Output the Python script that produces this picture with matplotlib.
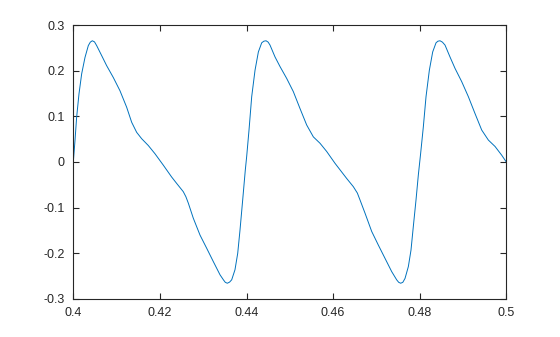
import matplotlib
matplotlib.use('Agg')
import matplotlib.pyplot as plt

plt.rcParams['font.family'] = ['Liberation Sans', 'DejaVu Sans']

# points (time in s, amplitude)
t = [0.4, 0.40039, 0.40077, 0.40131, 0.40193, 0.40270, 0.40347, 0.40393,
     0.40439, 0.40490,
     0.40539, 0.40655, 0.40770, 0.40924, 0.41078, 0.41232, 0.41348, 0.41463,
     0.41579, 0.41733, 0.41887, 0.42079, 0.42272, 0.42388, 0.42540, 0.42600,
     0.42656, 0.42771, 0.42926, 0.43081, 0.43233, 0.43388, 0.43470, 0.43510,
     0.43557, 0.43610, 0.43658, 0.43734,
     0.43797, 0.43850, 0.43912, 0.43972,
     0.44004, 0.44058, 0.44120, 0.44197, 0.44274, 0.44351, 0.44400, 0.44451,
     0.44500, 0.44543,
     0.44659, 0.44774, 0.44928, 0.45082, 0.45236, 0.45390, 0.45544, 0.45698,
     0.45852, 0.46045, 0.46313, 0.46467, 0.46560, 0.46621, 0.46737, 0.46891,
     0.47045, 0.47199, 0.47353, 0.47468, 0.47515, 0.47561, 0.47610, 0.47661,
     0.47738, 0.47799, 0.47853, 0.47915, 0.47969,
     0.48022, 0.48084, 0.48146, 0.48223, 0.48300, 0.48377, 0.48420, 0.48469,
     0.48525, 0.48585,
     0.48700, 0.48816, 0.48970, 0.49124, 0.49278, 0.49432, 0.49586, 0.49740,
     0.49893, 0.5]
y = [0.0, 0.047, 0.098, 0.149, 0.193, 0.229, 0.255, 0.2625,
     0.2655, 0.2630,
     0.255, 0.233, 0.211, 0.185, 0.156, 0.120, 0.087, 0.065,
     0.051, 0.036, 0.018, -0.007, -0.033, -0.047, -0.065, -0.076,
     -0.090, -0.123, -0.160, -0.189, -0.218, -0.247, -0.2585, -0.2635,
     -0.2655, -0.2630, -0.258, -0.236,
     -0.200, -0.149, -0.083, -0.018,
     0.012, 0.070, 0.143, 0.201, 0.241, 0.261, 0.2645, 0.2655,
     0.2625, 0.256,
     0.230, 0.209, 0.183, 0.154, 0.117, 0.081, 0.055, 0.041,
     0.023, -0.003, -0.036, -0.054, -0.068, -0.083, -0.112, -0.152,
     -0.182, -0.211, -0.240, -0.258, -0.2635, -0.2655, -0.2635, -0.255,
     -0.229, -0.193, -0.141, -0.083, -0.028,
     0.019, 0.077, 0.143, 0.201, 0.241, 0.261, 0.2645, 0.2655,
     0.2625, 0.256,
     0.230, 0.205, 0.176, 0.143, 0.106, 0.070, 0.048, 0.034,
     0.015, 0.0]

xticks = [0.4, 0.42, 0.44, 0.46, 0.48, 0.5]
yticks = [-0.3, -0.2, -0.1, 0, 0.1, 0.2, 0.3]

fig = plt.figure(figsize=(5.6, 3.37), dpi=100)
ax = fig.add_axes([0.1309, 0.1128, 0.7732, 0.8130])
ax.plot(t, y, color='#0072BD', linewidth=0.7, solid_joinstyle='round')

ax.set_xlim(0.4, 0.5)
ax.set_ylim(-0.3, 0.3)
ax.set_xticks(xticks)
ax.set_xticklabels(['0.4', '0.42', '0.44', '0.46', '0.48', '0.5'])
ax.set_yticks(yticks)
ax.set_yticklabels(['-0.3', '-0.2', '-0.1', '0', '0.1', '0.2', '0.3'])
ax.tick_params(direction='in', length=4, width=0.8, labelsize=9,
               top=True, right=True, pad=6, colors='#262626', labelcolor='#262626')
for s in ax.spines.values():
    s.set_linewidth(0.8)
    s.set_color('#262626')

fig.savefig('out.png', dpi=100)
